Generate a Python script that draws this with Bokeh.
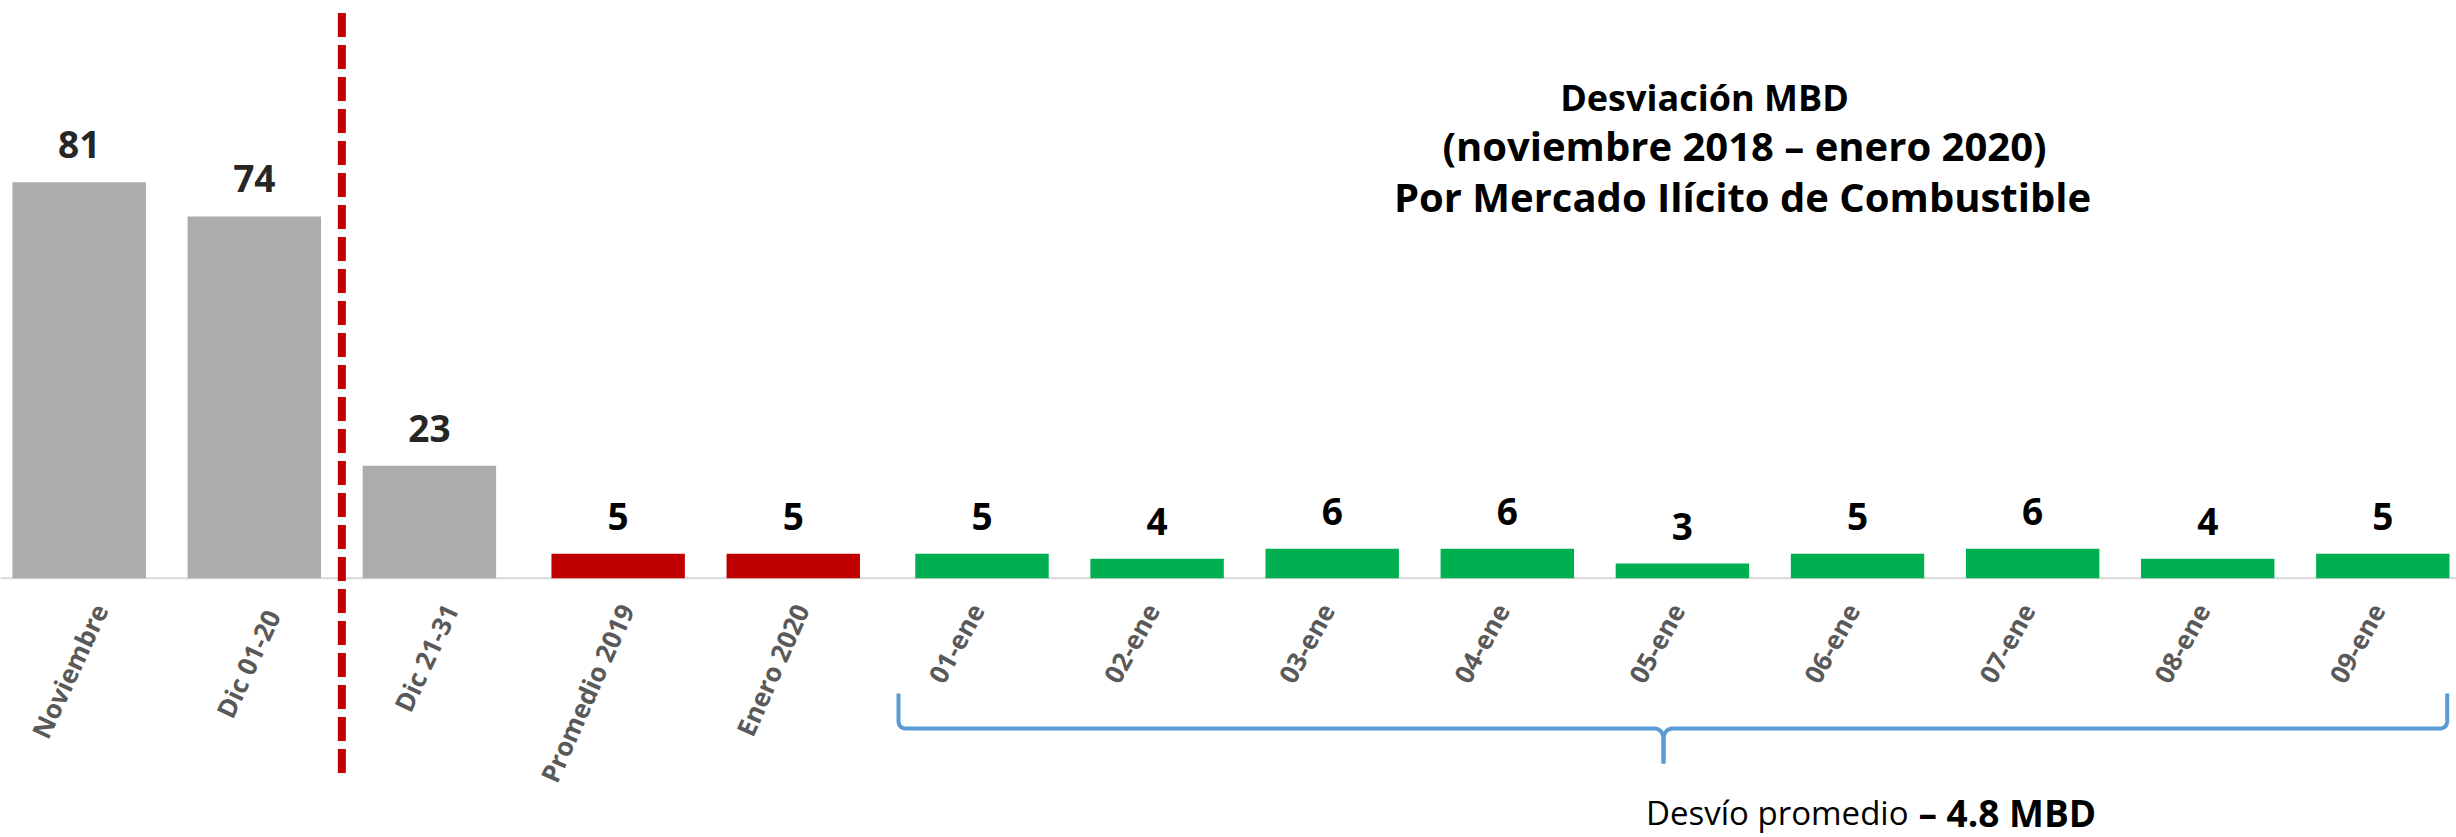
import numpy as np
from bokeh.plotting import figure
from bokeh.models import ColumnDataSource, Range1d, Span
from bokeh.core.properties import value
from bokeh.embed import file_html
from bokeh.resources import INLINE

# ---------------- data ----------------
categories = ["Noviembre", "Dic  01-20", "Dic 21-31", "Promedio 2019", "Enero 2020",
              "01-ene", "02-ene", "03-ene", "04-ene", "05-ene", "06-ene", "07-ene", "08-ene", "09-ene"]
values = [81, 74, 23, 5, 5, 5, 4, 6, 6, 3, 5, 6, 4, 5]
groups = [0, 0, 0, 1, 1, 2, 2, 2, 2, 2, 2, 2, 2, 2]
title_lines = ["Desviación MBD", "(noviembre 2018 – enero 2020)", "Por Mercado Ilícito de Combustible"]
note_regular = "Desvío promedio"
note_bold = "– 4.8 MBD"

# ---------------- styles / layout ----------------
group_colors = {0: "#AEABAB", 1: "#C00000", 2: "#00B050"}
value_colors = {0: "#262626", 1: "#000000", 2: "#000000"}
label_dx_px = {0: 21, 1: 8, 2: -5}
label_angle_deg = {0: 65, 1: 66, 2: 61}
GROUP_GAP = 0.078
BAR_W = 0.762

W, H = 2456, 837
PX = 175.1          # px per x unit
PY = 4.888          # px per y unit
X0 = 78.7           # frame px of x=0
Y0 = 577.7          # frame px of y=0


def dx(page_x):
    return (page_x - X0) / PX


def dy(page_y):
    return (Y0 - page_y) / PY


xs = [i + GROUP_GAP * g for i, g in enumerate(groups)]

src = ColumnDataSource(dict(
    x=xs,
    v=values,
    vt=[str(v) for v in values],
    ly=[v + 37.5 / PY for v in values],
    color=[group_colors[g] for g in groups],
    vcolor=[value_colors[g] for g in groups],
    cat=categories,
    lx=[x + label_dx_px[g] / PX for x, g in zip(xs, groups)],
    lyc=[dy(605)] * len(values),
    ang=[np.deg2rad(label_angle_deg[g]) for g in groups],
))

p = figure(width=W, height=H, output_backend="svg", toolbar_location=None,
           x_range=Range1d(-X0 / PX, (W - X0) / PX),
           y_range=Range1d(-(H - Y0) / PY, Y0 / PY),
           x_axis_location=None, y_axis_location=None,
           min_border=0, min_border_left=0, min_border_right=0,
           min_border_top=0, min_border_bottom=0)
p.outline_line_color = None
p.grid.visible = False
p.background_fill_color = "white"
p.border_fill_color = "white"

# baseline
p.add_layout(Span(location=0, dimension="width", line_color="#D9D9D9", line_width=2, level="underlay"))

# bars
p.vbar(x="x", top="v", bottom=0, width=BAR_W, fill_color="color", line_color=None, source=src)

# value labels
p.text(x="x", y="ly", text="vt", source=src, text_align="center", text_baseline="middle",
       text_font=value("Open Sans"), text_font_style="bold", text_font_size=value("37px"),
       text_color="vcolor")

# category labels
p.text(x="lx", y="lyc", text="cat", angle="ang", source=src, text_align="right",
       text_baseline="middle", text_font=value("Open Sans"), text_font_style="bold",
       text_font_size=value("26px"), text_color="#595959")

# red dashed divider between Dic 01-20 and Dic 21-31
div_x = (xs[1] + xs[2]) / 2
p.segment(x0=[div_x], y0=[dy(12.5)], x1=[div_x], y1=[dy(777)], line_color="#C00000",
          line_width=8, line_dash="24 8")

# title
title_pos = [(1704, 97, "36px"), (1744, 145, "40px"), (1742, 196, "40px")]
for t, (tx, ty, fs) in zip(title_lines, title_pos):
    p.text(x=[dx(tx)], y=[dy(ty)], text=[t], text_align="center", text_baseline="middle",
           text_font=value("Open Sans"), text_font_style="bold", text_font_size=value(fs),
           text_color="#000000")


# curly brace under the daily bars
def quad(p0, p1, p2, n=14):
    t = np.linspace(0, 1, n)[:, None]
    a, b, c = np.array(p0), np.array(p1), np.array(p2)
    return ((1 - t) ** 2 * a + 2 * (1 - t) * t * b + t ** 2 * c).tolist()


bl, br, bc = 898, 2446.7, 1663
ytop, ymid, ytip = 693, 728, 763
left = [(bl, ytop), (bl, ymid - 8)] + quad((bl, ymid - 8), (bl, ymid), (bl + 8, ymid)) + \
       [(bc - 10, ymid)] + quad((bc - 10, ymid), (bc, ymid), (bc, ymid + 12)) + [(bc, ytip)]
right = [(br, ytop), (br, ymid - 8)] + quad((br, ymid - 8), (br, ymid), (br - 8, ymid)) + \
        [(bc + 10, ymid)] + quad((bc + 10, ymid), (bc, ymid), (bc, ymid + 12)) + [(bc, ytip)]
p.multi_line(xs=[[dx(a) for a, b in left], [dx(a) for a, b in right]],
             ys=[[dy(b) for a, b in left], [dy(b) for a, b in right]],
             line_color="#5B9BD5", line_width=4, line_join="round")

# bottom note
p.text(x=[dx(1908)], y=[dy(812)], text=[note_regular], text_align="right", text_baseline="middle",
       text_font=value("Open Sans"), text_font_size=value("33px"), text_color="#000000")
p.text(x=[dx(1918)], y=[dy(812)], text=[note_bold], text_align="left", text_baseline="middle",
       text_font=value("Open Sans"), text_font_style="bold", text_font_size=value("37px"),
       text_color="#000000")

open("out.html", "w").write(file_html(p, INLINE))
